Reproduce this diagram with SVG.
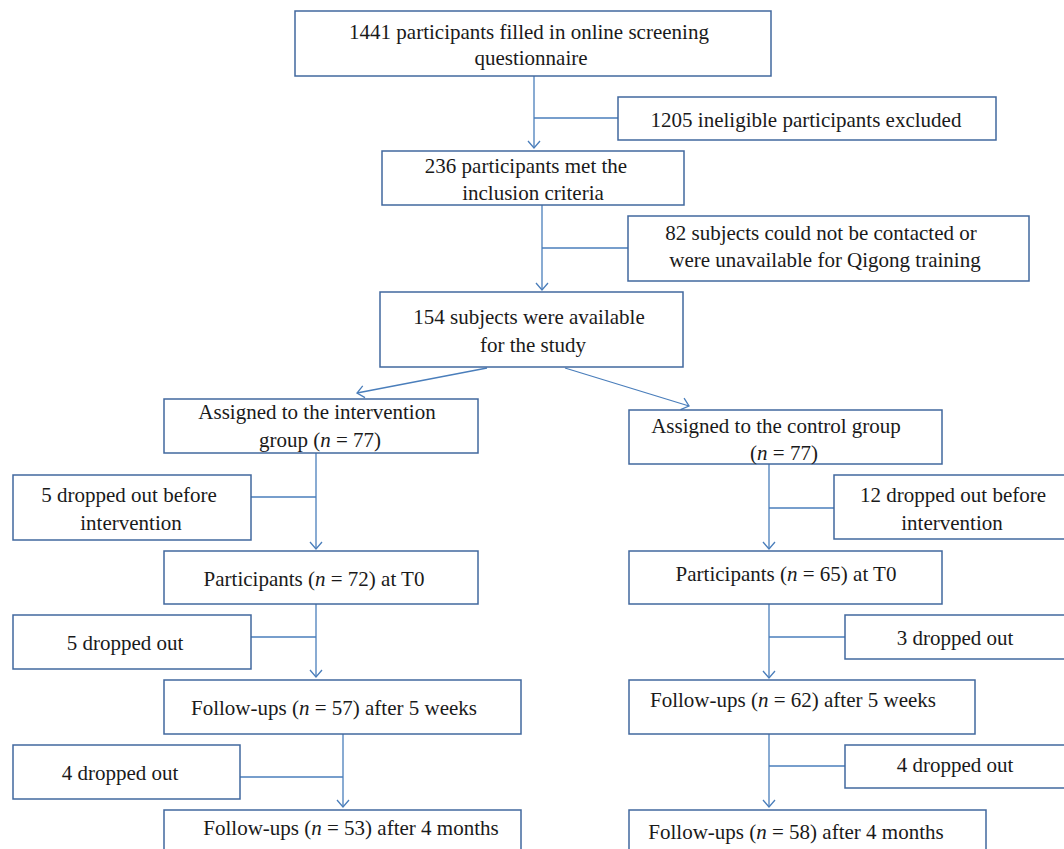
<svg xmlns="http://www.w3.org/2000/svg" width="1064" height="849" viewBox="0 0 1064 849">
<style>
.box{fill:#fff;stroke:#41689e;stroke-width:1.5}
.t{font-family:"Liberation Serif","Times New Roman",serif;font-size:21px;fill:#1a1a1a;text-anchor:middle}
.i{font-style:italic}
.c{fill:none;stroke:#4a7ebb;stroke-width:1.3}
</style>
<defs>
<marker id="ah" markerUnits="userSpaceOnUse" markerWidth="16" markerHeight="16" viewBox="-9 -8 10 16" refX="0" refY="0" orient="auto">
<path d="M-7,-6 L0,0 L-7,6" fill="none" stroke="#4a7ebb" stroke-width="1.3"/>
</marker>
</defs>
<rect width="1064" height="849" fill="#fff"/>
<g id="connectors">
<line class="c" x1="534" y1="76" x2="534" y2="148" marker-end="url(#ah)"/>
<line class="c" x1="534" y1="118" x2="618" y2="118"/>
<line class="c" x1="542" y1="205" x2="542" y2="290" marker-end="url(#ah)"/>
<line class="c" x1="542" y1="248" x2="628" y2="248"/>
<line class="c" x1="487" y1="368" x2="357" y2="393" marker-end="url(#ah)"/>
<line class="c" x1="565" y1="368" x2="689" y2="406" marker-end="url(#ah)"/>
<line class="c" x1="316" y1="453" x2="316" y2="549" marker-end="url(#ah)"/>
<line class="c" x1="251" y1="497" x2="316" y2="497"/>
<line class="c" x1="769" y1="464" x2="769" y2="549" marker-end="url(#ah)"/>
<line class="c" x1="769" y1="508" x2="834" y2="508"/>
<line class="c" x1="316" y1="604" x2="316" y2="677" marker-end="url(#ah)"/>
<line class="c" x1="251" y1="637" x2="316" y2="637"/>
<line class="c" x1="769" y1="604" x2="769" y2="678" marker-end="url(#ah)"/>
<line class="c" x1="769" y1="637" x2="845" y2="637"/>
<line class="c" x1="343" y1="734" x2="343" y2="807" marker-end="url(#ah)"/>
<line class="c" x1="240" y1="777" x2="343" y2="777"/>
<line class="c" x1="769" y1="734" x2="769" y2="807" marker-end="url(#ah)"/>
<line class="c" x1="769" y1="766" x2="845" y2="766"/>
</g>
<g id="n1441"><rect class="box" x="295" y="11" width="476" height="65"/>
<text class="t" x="529" y="39">1441 participants filled in online screening</text>
<text class="t" x="531" y="65">questionnaire</text></g>
<g id="n1205"><rect class="box" x="618" y="97" width="378" height="43"/>
<text class="t" x="806" y="127">1205 ineligible participants excluded</text></g>
<g id="n236"><rect class="box" x="382" y="151" width="302" height="54"/>
<text class="t" x="526" y="173">236 participants met the</text>
<text class="t" x="533" y="200">inclusion criteria</text></g>
<g id="n82"><rect class="box" x="628" y="216" width="401" height="65"/>
<text class="t" x="821" y="240">82 subjects could not be contacted or</text>
<text class="t" x="825" y="267">were unavailable for Qigong training</text></g>
<g id="n154"><rect class="box" x="380" y="292" width="303" height="75"/>
<text class="t" x="529" y="324">154 subjects were available</text>
<text class="t" x="533" y="352">for the study</text></g>
<g id="nInt"><rect class="box" x="164" y="399" width="314" height="54"/>
<text class="t" x="317" y="419">Assigned to the intervention</text>
<text class="t" x="320" y="447">group (<tspan class="i">n</tspan> = 77)</text></g>
<g id="nCtl"><rect class="box" x="629" y="410" width="313" height="54"/>
<text class="t" x="776" y="433">Assigned to the control group</text>
<text class="t" x="784" y="460">(<tspan class="i">n</tspan> = 77)</text></g>
<g id="nDropInt1"><rect class="box" x="13" y="475" width="238" height="65"/>
<text class="t" x="129" y="502">5 dropped out before</text>
<text class="t" x="131" y="530">intervention</text></g>
<g id="nDropCtl1"><rect class="box" x="834" y="475" width="240" height="64"/>
<text class="t" x="953" y="502">12 dropped out before</text>
<text class="t" x="952" y="530">intervention</text></g>
<g id="nP72"><rect class="box" x="164" y="551" width="314" height="53"/>
<text class="t" x="314" y="586">Participants (<tspan class="i">n</tspan> = 72) at T0</text></g>
<g id="nP65"><rect class="box" x="629" y="551" width="313" height="53"/>
<text class="t" x="786" y="581">Participants (<tspan class="i">n</tspan> = 65) at T0</text></g>
<g id="nDropInt2"><rect class="box" x="13" y="615" width="238" height="54"/>
<text class="t" x="125" y="650">5 dropped out</text></g>
<g id="nDropCtl2"><rect class="box" x="845" y="615" width="229" height="44"/>
<text class="t" x="955" y="645">3 dropped out</text></g>
<g id="nF57"><rect class="box" x="164" y="680" width="357" height="54"/>
<text class="t" x="334" y="715">Follow-ups (<tspan class="i">n</tspan> = 57) after 5 weeks</text></g>
<g id="nF62"><rect class="box" x="629" y="680" width="346" height="54"/>
<text class="t" x="793" y="707">Follow-ups (<tspan class="i">n</tspan> = 62) after 5 weeks</text></g>
<g id="nDropInt3"><rect class="box" x="13" y="745" width="227" height="54"/>
<text class="t" x="120" y="780">4 dropped out</text></g>
<g id="nDropCtl3"><rect class="box" x="845" y="745" width="229" height="43"/>
<text class="t" x="955" y="772">4 dropped out</text></g>
<g id="nF53"><rect class="box" x="164" y="810" width="357" height="60"/>
<text class="t" x="351" y="835">Follow-ups (<tspan class="i">n</tspan> = 53) after 4 months</text></g>
<g id="nF58"><rect class="box" x="629" y="810" width="357" height="60"/>
<text class="t" x="796" y="839">Follow-ups (<tspan class="i">n</tspan> = 58) after 4 months</text></g>
</svg>
